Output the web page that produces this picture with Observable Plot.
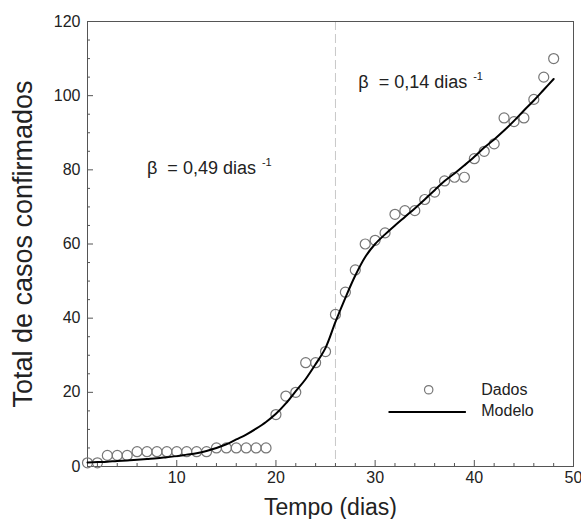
<!DOCTYPE html>
<html>
<head>
<meta charset="utf-8">
<script src="https://cdn.jsdelivr.net/npm/d3@7"></script>
<script src="https://cdn.jsdelivr.net/npm/@observablehq/plot@0.6"></script>
<style>
  html, body { margin: 0; padding: 0; background: #fff; }
  #chart { width: 581px; height: 519px; overflow: hidden; }
</style>
</head>
<body>
<div id="chart"></div>
<script>
// ---- data ----
const dias = [1,2,3,4,5,6,7,8,9,10,11,12,13,14,15,16,17,18,19,20,21,22,23,24,25,26,27,28,29,30,31,32,33,34,35,36,37,38,39,40,41,42,43,44,45,46,47,48];
const casos = [1,1,3,3,3,4,4,4,4,4,4,4,4,5,5,5,5,5,5,14,19,20,28,28,31,41,47,53,60,61,63,68,69,69,72,74,77,78,78,83,85,87,94,93,94,99,105,110];
const modelo = [1.1,1.2,1.3,1.5,1.6,1.8,2.0,2.2,2.5,2.8,3.2,3.6,4.2,5.0,6.0,7.3,8.6,10.2,12.0,14.2,17.0,20.3,23.6,27.6,32.0,39.0,45.5,51.5,56.5,60.0,62.6,65.0,67.3,69.6,72.0,74.5,77.0,79.0,81.2,83.5,86.0,88.2,90.6,93.2,96.0,98.7,101.6,104.5];
const xTicks = [10,20,30,40,50];
const xMinor = [2,4,6,8,12,14,16,18,22,24,26,28,32,34,36,38,42,44,46,48];
const yTicks = [0,20,40,60,80,100,120];
const yMinor = [5,10,15,25,30,35,45,50,55,65,70,75,85,90,95,105,110,115];
const mudanca = [26];
const anotacoes = [
  {x: 7.0, y: 80.3, texto: "β  = 0,49 dias"},
  {x: 28.3, y: 103.6, texto: "β  = 0,14 dias"}
];
const legenda = ["Dados", "Modelo"];

const dados = dias.map((d, i) => ({dia: d, casos: casos[i], modelo: modelo[i]}));

const W = 581, H = 519, mL = 87, mR = 8, mT = 21, mB = 53;
const pW = W - mL - mR, pH = H - mT - mB;
const axisColor = "#555";

const chart = Plot.plot({
  width: W, height: H,
  marginLeft: mL, marginRight: mR, marginTop: mT, marginBottom: mB,
  style: {fontFamily: "'Liberation Sans', Arial, sans-serif", background: "#fff", color: "#222"},
  x: {domain: [1, 50], axis: null},
  y: {domain: [0, 120], axis: null},
  marks: [
    Plot.ruleX(mudanca, {x: d => d, stroke: "#c8c8c8", strokeDasharray: "9,4", strokeWidth: 1}),
    Plot.frame({stroke: axisColor, strokeWidth: 1}),
    // inward ticks
    Plot.tickY(yTicks, {y: d => d, stroke: axisColor, insetRight: pW - 6}),
    Plot.tickY(yMinor, {y: d => d, stroke: axisColor, insetRight: pW - 3}),
    Plot.tickX(xTicks, {x: d => d, stroke: axisColor, insetTop: pH - 6}),
    Plot.tickX(xMinor, {x: d => d, stroke: axisColor, insetTop: pH - 3}),
    Plot.axisY(yTicks, {anchor: "left", tickSize: 0, tickPadding: 7, fontSize: 16, label: null}),
    Plot.axisX(xTicks, {anchor: "bottom", tickSize: 0, tickPadding: 5, fontSize: 16, label: null}),
    Plot.text(["Tempo (dias)"], {frameAnchor: "bottom", dy: 41, fontSize: 23, textAnchor: "middle", lineAnchor: "middle", fill: "#222"}),
    Plot.text(["Total de casos confirmados"], {frameAnchor: "left", dx: -64, rotate: -90, fontSize: 27, textAnchor: "middle", lineAnchor: "middle", fill: "#222"}),
    // data
    Plot.dot(dados, {x: "dia", y: "casos", r: 5, stroke: "#777", strokeWidth: 1.2, fill: "none"}),
    Plot.line(dados, {x: "dia", y: "modelo", stroke: "#000", strokeWidth: 2, curve: "catmull-rom"}),
    // annotations
    Plot.text(anotacoes, {x: "x", y: "y", text: "texto", textAnchor: "start", lineAnchor: "middle", fontSize: 18, fill: "#222"}),
    // legend
    Plot.dot([legenda[0]], {x: 35.4, y: 20.7, r: 4.2, stroke: "#777", strokeWidth: 1.2, fill: "none"}),
    Plot.ruleY([legenda[1]], {y: 14.7, x1: 31.4, x2: 39.2, stroke: "#000", strokeWidth: 2}),
    Plot.text(legenda, {x: 40.7, y: (d, i) => i === 0 ? 20.6 : 14.9, text: d => d, textAnchor: "start", lineAnchor: "middle", fontSize: 16, fill: "#222"})
  ]
});

// superscripts
d3.select(chart).selectAll("text").filter(function() {
  return this.textContent.startsWith("β");
}).append("tspan").attr("dx", 6).attr("dy", -8).attr("font-size", 11).text("-1");

document.getElementById("chart").appendChild(chart);
</script>
</body>
</html>
